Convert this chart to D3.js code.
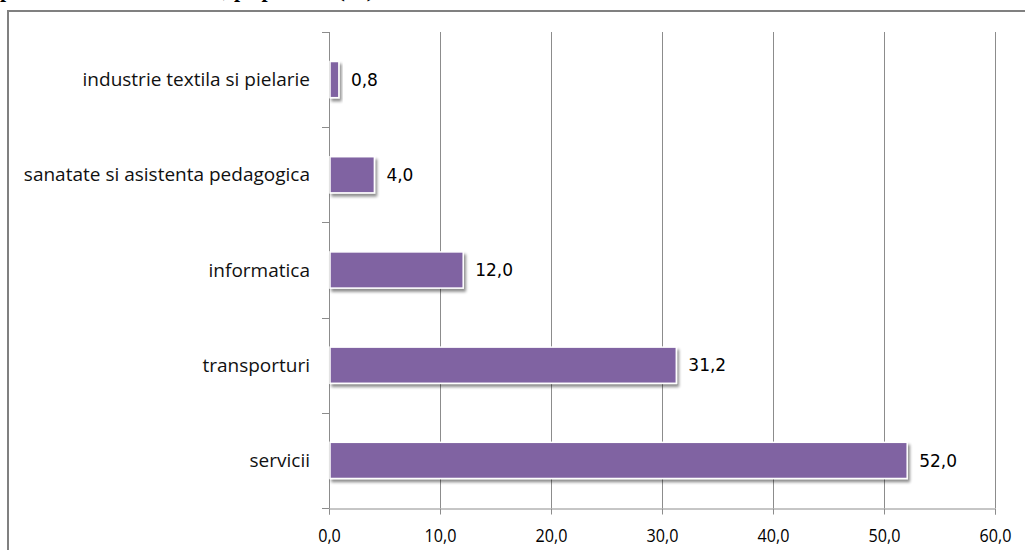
<!DOCTYPE html>
<html>
<head>
<meta charset="utf-8">
<script src="https://cdn.jsdelivr.net/npm/d3@7"></script>
<style>
  html, body { margin: 0; padding: 0; background: #fff; overflow: hidden; }
  svg { display: block; }
</style>
</head>
<body>
<svg id="chart" width="1025" height="550"></svg>
<script>
const categories = ["industrie textila si pielarie", "sanatate si asistenta pedagogica", "informatica", "transporturi", "servicii"];
const values = [0.8, 4.0, 12.0, 31.2, 52.0];
const tickValues = [0, 10, 20, 30, 40, 50, 60];
const titleText = "pe domenii de activitate, pe profesii (%)";

const svg = d3.select("#chart");
const fmt = v => d3.format(".1f")(v).replace(".", ",");

// shadow filter
const defs = svg.append("defs");
const f = defs.append("filter").attr("id", "shadow").attr("x", "-20%").attr("y", "-30%").attr("width", "160%").attr("height", "180%");
f.append("feGaussianBlur").attr("in", "SourceAlpha").attr("stdDeviation", 1.8).attr("result", "b");
f.append("feOffset").attr("in", "b").attr("dx", 2).attr("dy", 2.5).attr("result", "o");
f.append("feComponentTransfer").attr("in", "o").attr("result", "o2")
  .append("feFuncA").attr("type", "linear").attr("slope", 0.45);
const m = f.append("feMerge");
m.append("feMergeNode").attr("in", "o2");
m.append("feMergeNode").attr("in", "SourceGraphic");

// title (cut off at the top of the page, as in the source)
svg.append("text").attr("x", 0).attr("y", -3)
  .attr("font-family", "Liberation Serif").attr("font-weight", "bold").attr("font-size", 22)
  .attr("fill", "#000").text(titleText);

// outer frame
svg.append("rect").attr("x", 8).attr("y", 11).attr("width", 1100).attr("height", 600)
  .attr("fill", "none").attr("stroke", "#808080").attr("stroke-width", 2);

const x = d3.scaleLinear().domain([0, 60]).range([329, 995]);
const y = d3.scaleBand().domain(categories).range([32, 508]).paddingInner(0.62).paddingOuter(0.31);
const yb = d3.scaleBand().domain(categories).range([32, 508]);

// gridlines
svg.append("g").selectAll("line").data(tickValues.slice(1)).join("line")
  .attr("x1", d => Math.round(x(d)) + 0.5).attr("x2", d => Math.round(x(d)) + 0.5)
  .attr("y1", 32).attr("y2", 508)
  .attr("stroke", "#8c8c8c").attr("stroke-width", 1);

// x axis
const xAxis = svg.append("g").attr("transform", "translate(0,508.5)")
  .call(d3.axisBottom(x).tickValues(tickValues).tickFormat(fmt).tickSize(6));
xAxis.select(".domain").attr("stroke", "#8c8c8c");
xAxis.selectAll(".tick line").attr("stroke", "#8c8c8c");
xAxis.selectAll(".tick text")
  .attr("font-family", "Open Sans").attr("font-size", 19).attr("fill", "#000")
  .attr("y", 33.5).attr("dy", 0)
  .attr("transform", "scale(0.85,1)");

// y axis
const yAxisG = svg.append("g");
yAxisG.append("line").attr("x1", 329.5).attr("x2", 329.5).attr("y1", 32).attr("y2", 508)
  .attr("stroke", "#8c8c8c");
const bounds = [32].concat(categories.map(c => yb(c) + yb.bandwidth()));
yAxisG.selectAll("line.tk").data(bounds).join("line").attr("class", "tk")
  .attr("x1", 322).attr("x2", 329.5).attr("y1", d => Math.round(d) + 0.5).attr("y2", d => Math.round(d) + 0.5)
  .attr("stroke", "#8c8c8c");
yAxisG.selectAll("text.cat").data(categories).join("text").attr("class", "cat")
  .attr("x", 310).attr("y", d => yb(d) + yb.bandwidth() / 2)
  .attr("dy", "0.35em").attr("text-anchor", "end")
  .attr("font-family", "Open Sans").attr("font-size", 19).attr("fill", "#111")
  .text(d => d);

// bars
svg.append("g").selectAll("rect").data(values).join("rect")
  .attr("x", x(0) + 1).attr("y", (d, i) => y(categories[i]))
  .attr("width", d => x(d) - x(0)).attr("height", y.bandwidth())
  .attr("fill", "#8064A2").attr("stroke", "#fff").attr("stroke-width", 1.5)
  .attr("filter", "url(#shadow)");

// value labels
svg.append("g").selectAll("text").data(values).join("text")
  .attr("x", d => x(d) + 13).attr("y", (d, i) => y(categories[i]) + y.bandwidth() / 2)
  .attr("dy", "0.36em").attr("font-family", "DejaVu Sans").attr("font-size", 17).attr("fill", "#000")
  .text(d => fmt(d));
</script>
</body>
</html>
